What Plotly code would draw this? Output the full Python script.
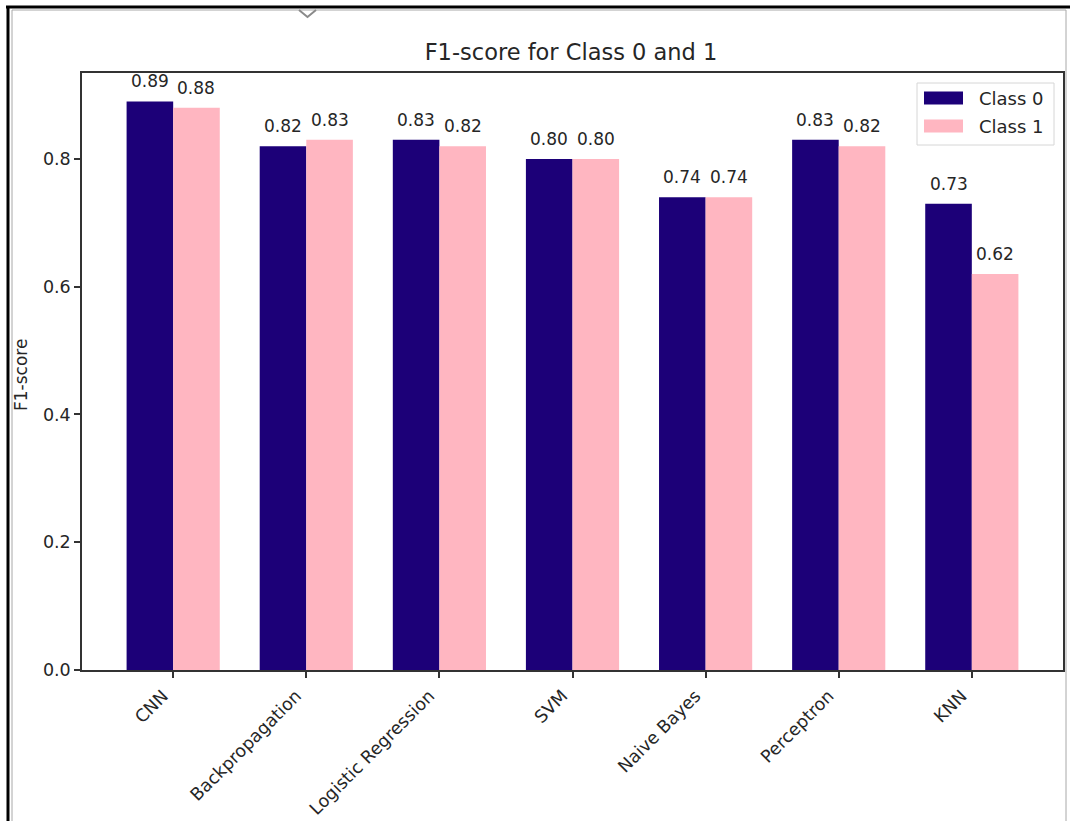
import plotly.graph_objects as go

# ---- data ----
models = ["CNN", "Backpropagation", "Logistic Regression", "SVM",
          "Naive Bayes", "Perceptron", "KNN"]
class0_f1 = [0.89, 0.82, 0.83, 0.80, 0.74, 0.83, 0.73]
class1_f1 = [0.88, 0.83, 0.82, 0.80, 0.74, 0.82, 0.62]
series_names = ["Class 0", "Class 1"]
y_ticks = [0.0, 0.2, 0.4, 0.6, 0.8]

C0 = "#1c0078"
C1 = "#ffb6c1"
TXT = "#262626"
FONT = "DejaVu Sans"

W, H = 1070, 821
L, R, T, B = 82, 1063, 73, 670  # plot area in px


def px_x(px):
    return (px - L) / (R - L)


def px_y(py):
    return (B - py) / (B - T)


fig = go.Figure()
fig.add_trace(go.Bar(x=models, y=class0_f1, name=series_names[0],
                     marker=dict(color=C0, line=dict(width=0)), showlegend=False))
fig.add_trace(go.Bar(x=models, y=class1_f1, name=series_names[1],
                     marker=dict(color=C1, line=dict(width=0)), showlegend=False))

bar_w = 0.35
annotations = []
for i, (a, b) in enumerate(zip(class0_f1, class1_f1)):
    for off, v in ((-bar_w / 2, a), (bar_w / 2, b)):
        annotations.append(dict(
            x=i + off, y=v, xref="x", yref="y", text=f"{v:.2f}",
            showarrow=False, yanchor="bottom", xanchor="center", yshift=8,
            font=dict(family=FONT, size=17, color=TXT)))

# y-axis title
annotations.append(dict(
    x=px_x(21), y=px_y(375), xref="paper", yref="paper", text="F1-score",
    textangle=-90, showarrow=False, xanchor="center", yanchor="middle",
    font=dict(family=FONT, size=17, color=TXT)))

# manual legend (matplotlib style)
shapes = []
leg_x0, leg_x1, leg_y0, leg_y1 = 917, 1054, 83, 145
shapes.append(dict(type="rect", xref="paper", yref="paper",
                   x0=px_x(leg_x0), x1=px_x(leg_x1), y0=px_y(leg_y1), y1=px_y(leg_y0),
                   line=dict(color="#d6d6d6", width=1), fillcolor="rgba(255,255,255,0.8)"))
for k, (nm, col, cy) in enumerate(zip(series_names, [C0, C1], [98, 126])):
    shapes.append(dict(type="rect", xref="paper", yref="paper",
                       x0=px_x(924), x1=px_x(963), y0=px_y(cy + 6.5), y1=px_y(cy - 6.5),
                       line=dict(width=0), fillcolor=col))
    annotations.append(dict(x=px_x(977), y=px_y(cy), xref="paper", yref="paper",
                            text=nm, showarrow=False, xanchor="left", yanchor="middle",
                            font=dict(family=FONT, size=18, color=TXT)))

# outer frame of the screenshot
shapes.append(dict(type="line", xref="paper", yref="paper",
                   x0=px_x(12), x1=px_x(12), y0=px_y(10), y1=px_y(830),
                   line=dict(color="#a8a8a8", width=1)))
shapes.append(dict(type="line", xref="paper", yref="paper",
                   x0=px_x(1066), x1=px_x(1066), y0=px_y(10), y1=px_y(830),
                   line=dict(color="#a8a8a8", width=1)))
shapes.append(dict(type="line", xref="paper", yref="paper",
                   x0=px_x(12), x1=px_x(1066), y0=px_y(10), y1=px_y(10),
                   line=dict(color="#a8a8a8", width=1)))
shapes.append(dict(type="line", xref="paper", yref="paper",
                   x0=px_x(6), x1=px_x(1072), y0=px_y(7), y1=px_y(7),
                   line=dict(color="black", width=3)))
shapes.append(dict(type="line", xref="paper", yref="paper",
                   x0=px_x(8), x1=px_x(8), y0=px_y(6), y1=px_y(830),
                   line=dict(color="black", width=3)))
# small chevron at top
shapes.append(dict(type="path", xref="paper", yref="paper",
                   path=f"M {px_x(299)} {px_y(10)} L {px_x(307.5)} {px_y(17)} L {px_x(316)} {px_y(10)}",
                   line=dict(color="#8a8a8a", width=2)))

fig.update_layout(
    width=W, height=H,
    margin=dict(l=L, r=W - R, t=T, b=H - B, pad=0, autoexpand=False),
    paper_bgcolor="white", plot_bgcolor="white",
    barmode="group", bargap=0.3, bargroupgap=0.0,
    title=dict(text="F1-score for Class 0 and 1", x=px_x(571), xanchor="center",
               y=1 - 52 / H, yanchor="middle", xref="paper",
               font=dict(family=FONT, size=22.5, color=TXT)),
    font=dict(family=FONT, size=17, color=TXT),
    annotations=annotations, shapes=shapes,
    xaxis=dict(type="category", range=[-0.685, 6.685], showgrid=False, automargin=False,
               showline=True, mirror=True, linecolor="#333333", linewidth=1.5,
               ticks="outside", ticklen=6, tickcolor="#333333", tickwidth=1.5,
               tickangle=-45, ticklabelshift=-10, ticklabelstandoff=1,
               tickfont=dict(family=FONT, size=17.5, color=TXT),
               zeroline=False),
    yaxis=dict(range=[0, 0.9345], showgrid=False, tickvals=y_ticks, automargin=False,
               ticktext=[f"{v:.1f}" for v in y_ticks],
               showline=True, mirror=True, linecolor="#333333", linewidth=1.5,
               ticks="outside", ticklen=6, tickcolor="#333333", tickwidth=1.5,
               tickfont=dict(family=FONT, size=17.5, color=TXT), zeroline=False),
)

fig.write_html("out.html")
